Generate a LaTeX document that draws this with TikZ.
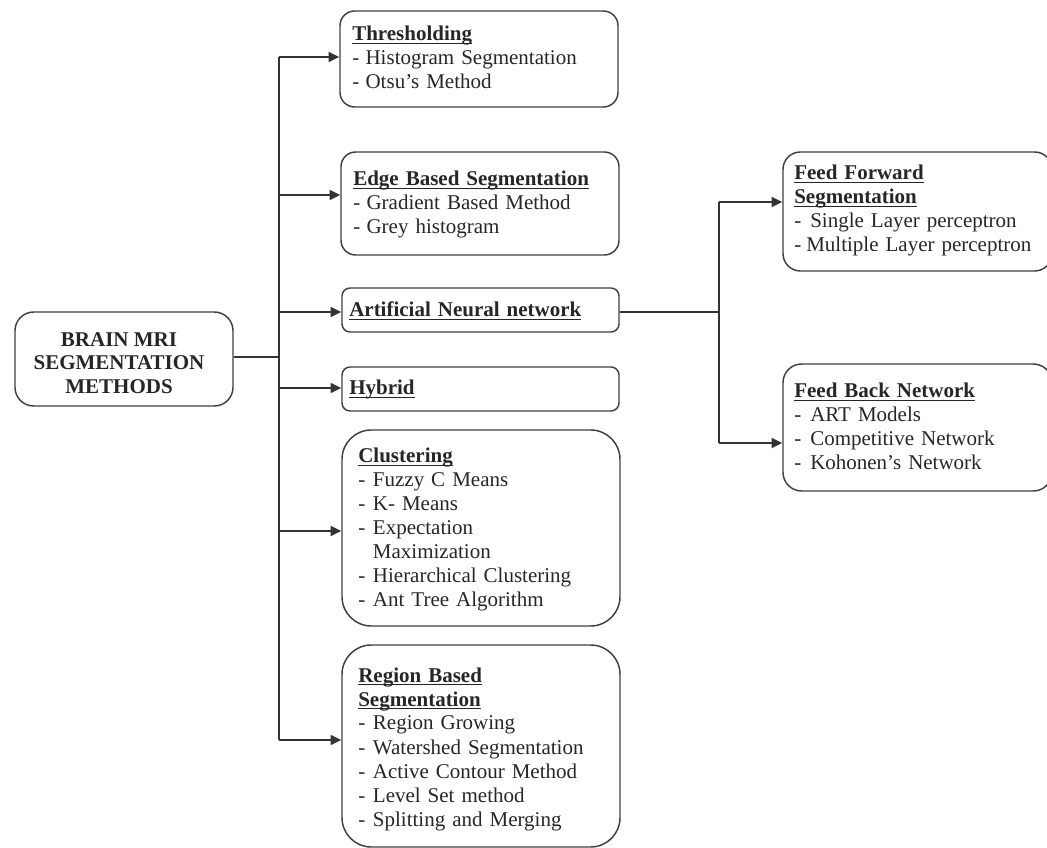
\documentclass[tikz,border=0pt]{standalone}
\usepackage{fontspec}
\setmainfont{Liberation Serif}
\usetikzlibrary{arrows.meta,fit}
\newcommand\hdtitle[1]{\leavevmode\setbox0\hbox{\bfseries #1}\rlap{\vrule height -1.4pt depth 2.4pt width \wd0}\box0}
\newcommand\dashitem[2][11pt]{\leavevmode\makebox[#1][l]{-}#2}
\begin{document}
\begin{tikzpicture}[x=0.75pt,y=-0.75pt,
  box/.style={draw=black!75, line width=1.1pt, inner sep=0pt, rounded corners=#1},
  txt/.style={anchor=base west, inner sep=0pt, align=left, text width=190pt,
    font=\fontsize{15.75}{18}\selectfont, text=black!85},
  conn/.style={draw=black!80, line width=1.1pt},
  arr/.style={conn, -{Triangle[length=8pt,width=7.5pt]}}]
\useasboundingbox (0,0) rectangle (1047,848);

% boxes
\node[box=14pt, fit={(15,312)(233,406)}] (root) {};
\node[box=11pt, fit={(340,11)(618,107)}] (thr) {};
\node[box=11pt, fit={(341,152)(619,255)}] (edge) {};
\node[box=6pt, fit={(342,288)(619,332)}] (ann) {};
\node[box=6pt, fit={(342,367)(619,411)}] (hyb) {};
\node[box=22pt, fit={(342,430)(620,626)}] (clu) {};
\node[box=22pt, fit={(342,645)(620,847)}] (reg) {};
\node[box=13pt, fit={(783,152)(1052,271)}] (ff) {};
\node[box=14pt, fit={(783,364)(1052,491)}] (fb) {};

% texts
\node[font=\fontsize{15.75}{17.6}\selectfont\bfseries, align=center, text=black!85, inner sep=0pt]
  (rootT) at (119,363) {BRAIN MRI\\SEGMENTATION\\METHODS};
\node[txt] (thrT) at (352,41) {\hdtitle{Thresholding}\\\dashitem[10pt]{Histogram Segmentation}\\\dashitem[10pt]{Otsu's Method}};
\node[txt] (edgeT) at (353,186) {\hdtitle{Edge Based Segmentation}\\\dashitem[10pt]{Gradient Based Method}\\\dashitem[10pt]{Grey histogram}};
\node[txt] (annT) at (349,317) {\hdtitle{Artificial Neural network}};
\node[txt] (hybT) at (349,395) {\hdtitle{Hybrid}};
\node[txt] (cluT) at (358,463) {\hdtitle{Clustering}\\\dashitem{Fuzzy C Means}\\\dashitem{K- Means}\\\dashitem{Expectation}\\\hspace*{11pt}Maximization\\\dashitem{Hierarchical Clustering}\\\dashitem{Ant Tree Algorithm}};
\node[txt] (regT) at (358,682) {\hdtitle{Region Based}\\\hdtitle{Segmentation}\\\dashitem{Region Growing}\\\dashitem{Watershed Segmentation}\\\dashitem{Active Contour Method}\\\dashitem{Level Set method}\\\dashitem{Splitting and Merging}};
\node[txt] (ffT) at (794,180) {\hdtitle{Feed Forward}\\\hdtitle{Segmentation}\\\dashitem[12pt]{Single Layer perceptron}\\\dashitem[9pt]{Multiple Layer perceptron}};
\node[txt] (fbT) at (794,398) {\hdtitle{Feed Back Network}\\\dashitem[12pt]{ART Models}\\\dashitem[12pt]{Competitive Network}\\\dashitem[12pt]{Kohonen's Network}};

% connectors
\coordinate (jr) at (279,357);
\coordinate (j1) at (279,57);
\coordinate (j2) at (279,195);
\coordinate (j3) at (279,312);
\coordinate (j4) at (279,388);
\coordinate (j5) at (279,531);
\coordinate (j6) at (279,740);
\draw[conn] (j1) -- (j6);
\draw[conn] (jr -| root.east) -- (jr);
\draw[arr] (j1) -- (j1 -| thr.west);
\draw[arr] (j2) -- (j2 -| edge.west);
\draw[arr] (j3) -- (j3 -| ann.west);
\draw[arr] (j4) -- (j4 -| hyb.west);
\draw[arr] (j5) -- (j5 -| clu.west);
\draw[arr] (j6) -- (j6 -| reg.west);

\coordinate (ja) at (719,312);
\coordinate (jf) at (719,202);
\coordinate (jb) at (719,443);
\draw[conn] (ja -| ann.east) -- (ja);
\draw[conn] (jf) -- (jb);
\draw[arr] (jf) -- (jf -| ff.west);
\draw[arr] (jb) -- (jb -| fb.west);
\end{tikzpicture}
\end{document}
